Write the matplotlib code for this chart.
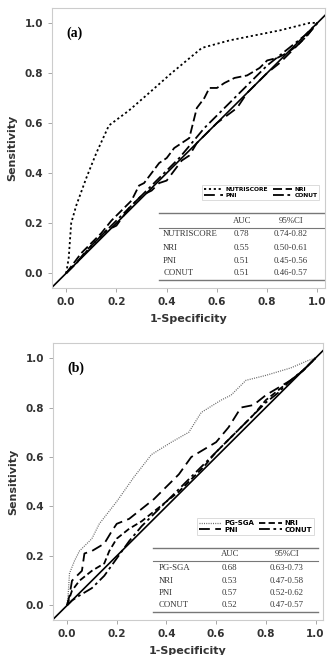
import matplotlib
matplotlib.use("Agg")
import matplotlib.pyplot as plt

# ---- panel (a) data ----
nutri_x = [0, 0.005, 0.01, 0.02, 0.04, 0.08, 0.12, 0.17, 0.25, 0.33, 0.42, 0.54, 0.65, 0.75, 0.85, 0.93, 0.97, 1.0]
nutri_y = [0, 0.03, 0.06, 0.20, 0.27, 0.38, 0.48, 0.59, 0.65, 0.72, 0.80, 0.90, 0.93, 0.95, 0.97, 0.99, 1.0, 1.0]

nri_a_x = [0, 0.03, 0.06, 0.1, 0.14, 0.18, 0.22, 0.26, 0.29, 0.31, 0.34, 0.37, 0.4, 0.43, 0.46, 0.49, 0.5, 0.52, 0.55, 0.57, 0.6, 0.63, 0.67, 0.72, 0.77, 0.8, 0.84, 0.88, 0.92, 0.96, 1.0]
nri_a_y = [0, 0.04, 0.08, 0.12, 0.16, 0.21, 0.25, 0.29, 0.35, 0.36, 0.40, 0.44, 0.46, 0.50, 0.52, 0.54, 0.58, 0.66, 0.70, 0.74, 0.74, 0.76, 0.78, 0.79, 0.82, 0.85, 0.86, 0.88, 0.91, 0.95, 1.0]

pni_a_x = [0, 0.04, 0.08, 0.12, 0.16, 0.2, 0.25, 0.3, 0.34, 0.37, 0.4, 0.43, 0.46, 0.49, 0.52, 0.56, 0.6, 0.64, 0.68, 0.72, 0.76, 0.8, 0.85, 0.9, 0.95, 1.0]
pni_a_y = [0, 0.04, 0.09, 0.13, 0.17, 0.19, 0.26, 0.31, 0.33, 0.36, 0.37, 0.41, 0.45, 0.47, 0.52, 0.56, 0.60, 0.63, 0.66, 0.72, 0.76, 0.80, 0.84, 0.89, 0.94, 1.0]

conut_a_x = [0, 0.05, 0.1, 0.15, 0.2, 0.25, 0.3, 0.35, 0.4, 0.45, 0.5, 0.55, 0.6, 0.65, 0.7, 0.75, 0.8, 0.85, 0.9, 0.95, 1.0]
conut_a_y = [0, 0.05, 0.11, 0.16, 0.21, 0.26, 0.31, 0.36, 0.41, 0.46, 0.52, 0.58, 0.63, 0.68, 0.73, 0.78, 0.83, 0.87, 0.91, 0.95, 1.0]

# ---- panel (b) data ----
pgsga_x = [0, 0.005, 0.01, 0.03, 0.05, 0.1, 0.13, 0.2, 0.27, 0.34, 0.42, 0.49, 0.54, 0.62, 0.66, 0.72, 0.8, 0.9, 0.97, 1.0]
pgsga_y = [0, 0.05, 0.13, 0.18, 0.22, 0.27, 0.33, 0.42, 0.52, 0.61, 0.66, 0.70, 0.78, 0.83, 0.85, 0.91, 0.93, 0.96, 0.99, 1.0]

pni_b_x = [0, 0.01, 0.02, 0.04, 0.06, 0.07, 0.1, 0.15, 0.18, 0.2, 0.25, 0.3, 0.35, 0.4, 0.45, 0.5, 0.55, 0.6, 0.65, 0.7, 0.75, 0.8, 0.85, 0.9, 0.95, 1.0]
pni_b_y = [0, 0.04, 0.10, 0.12, 0.14, 0.21, 0.22, 0.25, 0.30, 0.33, 0.35, 0.39, 0.43, 0.48, 0.53, 0.60, 0.63, 0.66, 0.72, 0.80, 0.81, 0.85, 0.88, 0.91, 0.95, 1.0]

nri_b_x = [0, 0.02, 0.05, 0.1, 0.15, 0.17, 0.2, 0.25, 0.3, 0.35, 0.4, 0.45, 0.5, 0.55, 0.6, 0.65, 0.7, 0.75, 0.8, 0.85, 0.9, 0.95, 1.0]
nri_b_y = [0, 0.06, 0.10, 0.14, 0.17, 0.22, 0.27, 0.31, 0.34, 0.38, 0.42, 0.46, 0.51, 0.56, 0.62, 0.67, 0.72, 0.77, 0.83, 0.87, 0.91, 0.95, 1.0]

conut_b_x = [0, 0.02, 0.05, 0.1, 0.15, 0.2, 0.25, 0.3, 0.35, 0.4, 0.45, 0.5, 0.55, 0.6, 0.65, 0.7, 0.75, 0.8, 0.85, 0.9, 0.95, 1.0]
conut_b_y = [0, 0.02, 0.04, 0.07, 0.12, 0.19, 0.26, 0.32, 0.37, 0.42, 0.47, 0.52, 0.57, 0.62, 0.67, 0.72, 0.77, 0.82, 0.86, 0.91, 0.95, 1.0]

ticks = [0.0, 0.2, 0.4, 0.6, 0.8, 1.0]

table_a = [("NUTRISCORE", "0.78", "0.74-0.82"), ("NRI", "0.55", "0.50-0.61"),
           ("PNI", "0.51", "0.45-0.56"), ("CONUT", "0.51", "0.46-0.57")]
table_b = [("PG-SGA", "0.68", "0.63-0.73"), ("NRI", "0.53", "0.47-0.58"),
           ("PNI", "0.57", "0.52-0.62"), ("CONUT", "0.52", "0.47-0.57")]

fig = plt.figure(figsize=(3.34, 6.55), dpi=100)
ax1 = fig.add_axes([0.156, 0.560, 0.817, 0.428])
ax2 = fig.add_axes([0.159, 0.053, 0.808, 0.423])


def style(ax, label):
    ax.set_xlim(-0.056, 1.03)
    ax.set_ylim(-0.06, 1.06)
    ax.plot([-0.1, 1.1], [-0.1, 1.1], color="black", lw=1.2, zorder=1)
    ax.set_xticks(ticks)
    ax.set_yticks(ticks)
    ax.set_xticklabels(["%.1f" % t for t in ticks], fontsize=7.5, fontweight="bold", color="#333333")
    ax.set_yticklabels(["%.1f" % t for t in ticks], fontsize=7.5, fontweight="bold", color="#333333")
    ax.tick_params(length=3, color="#999999", width=0.6)
    for s in ax.spines.values():
        s.set_color("#cccccc")
        s.set_linewidth(0.8)
    ax.set_xlabel("1-Specificity", fontsize=8, fontweight="bold", color="#333333", labelpad=5)
    ax.set_ylabel("Sensitivity", fontsize=8, fontweight="bold", color="#333333", labelpad=5)
    ax.text(0.0, 0.96, label, fontsize=10, fontweight="bold", family="Liberation Serif", va="center")


def table(ax, rows, x0, x1, xl, xa, xc, ytop, yhead, ylines, ybot, yh):
    tr = ax.transAxes
    ax.plot([x0, x1], [ytop, ytop], transform=tr, color="#777777", lw=1.0, clip_on=False)
    ax.plot([x0, x1], [ylines, ylines], transform=tr, color="#777777", lw=0.8, clip_on=False)
    ax.plot([x0, x1], [ybot, ybot], transform=tr, color="#777777", lw=1.0, clip_on=False)
    kw = dict(transform=tr, family="Liberation Serif", fontsize=6.3, color="#333333", va="center")
    ax.text(xa, yhead, "AUC", ha="center", **kw)
    ax.text(xc, yhead, "95%CI", ha="center", **kw)
    for i, (n, a, c) in enumerate(rows):
        ax.text(xl, yh[i], n, ha="left", **kw)
        ax.text(xa, yh[i], a, ha="center", **kw)
        ax.text(xc, yh[i], c, ha="center", **kw)


def legend(ax, lines, size, anchor):
    # legend fills columns first; reorder so rows read: 1st 2nd / 3rd 4th
    order = [lines[0], lines[2], lines[1], lines[3]]
    leg = ax.legend(handles=order, ncol=2, loc="lower right", bbox_to_anchor=anchor,
                    prop=dict(size=size, weight="bold"), frameon=True, fancybox=False,
                    handlelength=3.2, columnspacing=0.8, borderpad=0.3, labelspacing=0.1,
                    handletextpad=0.4)
    leg.get_frame().set_edgecolor("#cccccc")
    leg.get_frame().set_linewidth(0.6)


style(ax1, "(a)")
l1, = ax1.plot(nutri_x, nutri_y, color="black", lw=1.3, linestyle=(0, (1.2, 1.5)), label="NUTRISCORE")
l2, = ax1.plot(nri_a_x, nri_a_y, color="black", lw=1.3, linestyle=(0, (5, 2)), label="NRI")
l3, = ax1.plot(pni_a_x, pni_a_y, color="black", lw=1.3, linestyle=(0, (6, 3)), label="PNI")
l4, = ax1.plot(conut_a_x, conut_a_y, color="black", lw=1.3, linestyle=(0, (6, 2, 1.5, 2)), label="CONUT")
legend(ax1, [l1, l2, l3, l4], 4.3, (0.99, 0.305))
table(ax1, table_a, 0.39, 0.996, 0.407, 0.695, 0.875, 0.268, 0.241, 0.214, 0.029,
      [0.193, 0.143, 0.096, 0.054])

style(ax2, "(b)")
m1, = ax2.plot(pgsga_x, pgsga_y, color="#666666", lw=0.9, linestyle=(0, (0.8, 1.0)), label="PG-SGA")
m2, = ax2.plot(nri_b_x, nri_b_y, color="black", lw=1.3, linestyle=(0, (3.5, 1.8)), label="NRI")
m3, = ax2.plot(pni_b_x, pni_b_y, color="black", lw=1.3, linestyle=(0, (6, 3)), label="PNI")
m4, = ax2.plot(conut_b_x, conut_b_y, color="black", lw=1.3, linestyle=(0, (6, 2, 1.5, 2)), label="CONUT")
legend(ax2, [m1, m2, m3, m4], 5, (0.98, 0.296))
table(ax2, table_b, 0.37, 0.98, 0.39, 0.655, 0.866, 0.26, 0.238, 0.213, 0.029,
      [0.188, 0.141, 0.097, 0.054])

fig.savefig("out.png", dpi=100)
